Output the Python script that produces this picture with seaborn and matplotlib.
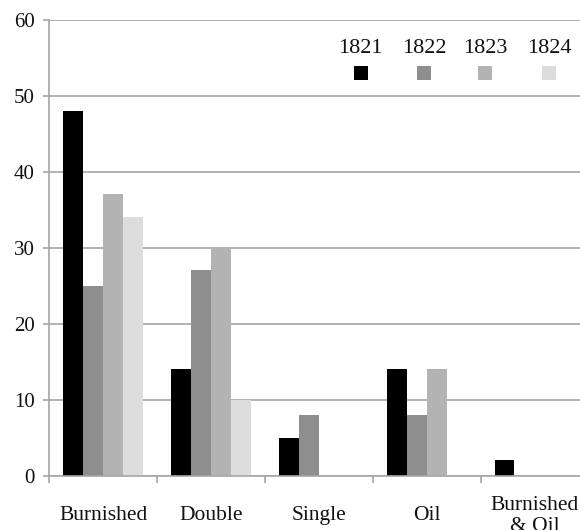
import matplotlib
matplotlib.use("Agg")
import matplotlib.pyplot as plt
from matplotlib.patches import Rectangle
import seaborn as sns
import pandas as pd

categories = ["Burnished", "Double", "Single", "Oil", "Burnished\n& Oil"]
years = ["1821", "1822", "1823", "1824"]
values_1821 = [48, 14, 5, 14, 2]
values_1822 = [25, 27, 8, 8, 0]
values_1823 = [37, 30, 0, 14, 0]
values_1824 = [34, 10, 0, 0, 0]
colors = ["#000000", "#8e8e8e", "#b3b3b3", "#dddddd"]
y_ticks = [0, 10, 20, 30, 40, 50, 60]

series = [values_1821, values_1822, values_1823, values_1824]
rows = []
for yr, vals in zip(years, series):
    for cat, v in zip(categories, vals):
        rows.append({"category": cat, "year": yr, "value": v})
df = pd.DataFrame(rows)

sns.set_theme(style="white")
plt.rcParams["font.family"] = ["Liberation Serif", "DejaVu Serif"]

fig = plt.figure(figsize=(5.8, 5.3), dpi=100)
ax = fig.add_axes([49.3 / 580, 1 - 475.7 / 530, 539 / 580, 456.2 / 530])

sns.barplot(data=df, x="category", y="value", hue="year", order=categories,
            hue_order=years, palette=colors, width=0.74, gap=0,
            linewidth=0, edgecolor="none", saturation=1, legend=False, ax=ax)

grid_color = "#a6a6a6"
ax.set_xlim(-0.5, len(categories) - 0.5)
ax.set_ylim(0, 60)
ax.set_yticks(y_ticks)
ax.set_yticklabels([str(t) for t in y_ticks])
ax.yaxis.grid(True, color=grid_color, linewidth=1.2)
ax.xaxis.grid(False)
ax.set_axisbelow(True)
ax.set_xlabel("")
ax.set_ylabel("")

for side in ["top", "right"]:
    ax.spines[side].set_visible(False)
for side in ["left", "bottom"]:
    ax.spines[side].set_color(grid_color)
    ax.spines[side].set_linewidth(1.2)

ax.set_xticks([i - 0.5 for i in range(len(categories) + 1)], minor=True)
ax.tick_params(axis="x", which="major", length=0, pad=29, labelsize=15.5,
               labelcolor="#111111")
ax.tick_params(axis="x", which="minor", length=5, width=1.2, color=grid_color,
               direction="out", bottom=True)
ax.tick_params(axis="y", which="major", length=4.5, width=1.2, color=grid_color,
               direction="out", left=True, pad=6, labelsize=15,
               labelcolor="#111111")
for lab in ax.get_xticklabels():
    lab.set_va("center")
    lab.set_linespacing(1.15)

# legend: year labels above colour squares
leg_x = [0.578, 0.695, 0.809, 0.928]
sq_w = 14 / 539
sq_h = 14 / 456.2
for yr, col, lx in zip(years, colors, leg_x):
    ax.text(lx, 0.9375, yr, transform=ax.transAxes, ha="center", va="center",
            fontsize=16, color="#111111")
    ax.add_patch(Rectangle((lx - sq_w / 2, 0.8838 - sq_h / 2), sq_w, sq_h,
                           transform=ax.transAxes, facecolor=col,
                           edgecolor="none", clip_on=False))

fig.savefig("out.png", dpi=100)
